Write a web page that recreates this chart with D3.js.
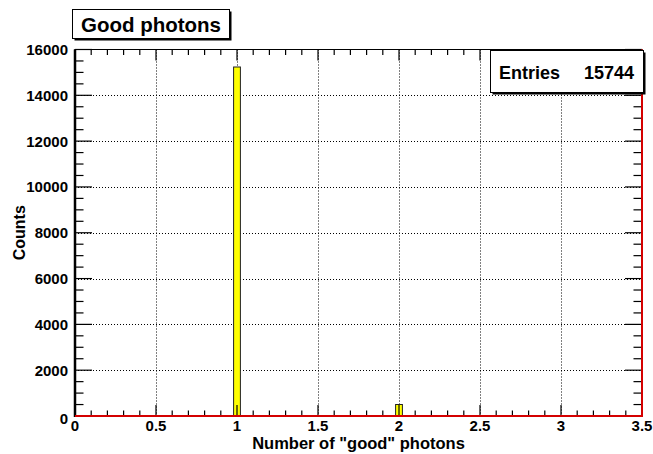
<!DOCTYPE html>
<html>
<head>
<meta charset="utf-8">
<script src="https://cdn.jsdelivr.net/npm/d3@7"></script>
<style>
  html, body { margin: 0; padding: 0; background: #fff; }
  svg text { font-family: "Liberation Sans", Arial, Helvetica, sans-serif; font-weight: bold; fill: #000; }
</style>
</head>
<body>
<svg id="chart" width="653" height="454"></svg>
<script>
// Histogram contents: bin centres and counts
const binCenters = [1, 2, 3];
const binCounts = [15236, 502, 6];
const binWidth = 0.042;
const xTicks = [0, 0.5, 1, 1.5, 2, 2.5, 3, 3.5];
const yTicks = [0, 2000, 4000, 6000, 8000, 10000, 12000, 14000, 16000];
const titleText = "Good photons";
const xTitle = 'Number of "good" photons';
const yTitle = "Counts";
const statsName = "Entries";
const statsValue = "15744";

const svg = d3.select("#chart");
const frame = { left: 75, right: 642, top: 49.5, bottom: 416 };

const x = d3.scaleLinear().domain([0, 3.5]).range([frame.left, frame.right]);
const y = d3.scaleLinear().domain([0, 16000]).range([frame.bottom, frame.top]);

const W = frame.right - frame.left, H = frame.bottom - frame.top;
const xMajorLen = 0.03 * H, xMinorLen = xMajorLen / 2;
const yMajorLen = 0.03 * W, yMinorLen = yMajorLen / 2;

// dotted grid at the major ticks
const grid = svg.append("g").attr("stroke", "#000").attr("stroke-width", 1)
  .attr("stroke-dasharray", "1,2");
grid.selectAll("line.gx").data(xTicks.filter(d => d > 0 && d < 3.5)).join("line")
  .attr("class", "gx")
  .attr("x1", d => Math.round(x(d)) + 0.5).attr("x2", d => Math.round(x(d)) + 0.5)
  .attr("y1", frame.top).attr("y2", frame.bottom);
grid.selectAll("line.gy").data(yTicks.filter(d => d > 0 && d < 16000)).join("line")
  .attr("class", "gy")
  .attr("x1", frame.left).attr("x2", frame.right)
  .attr("y1", d => Math.round(y(d)) + 0.5).attr("y2", d => Math.round(y(d)) + 0.5);

// histogram bars
svg.append("g").selectAll("rect").data(binCenters.map((c, i) => ({ c, n: binCounts[i] })))
  .join("rect")
  .attr("x", d => x(d.c - binWidth / 2))
  .attr("width", d => x(d.c + binWidth / 2) - x(d.c - binWidth / 2))
  .attr("y", d => y(d.n))
  .attr("height", d => y(0) - y(d.n))
  .attr("fill", "#ffff00")
  .attr("stroke", "#222")
  .attr("stroke-width", 1);

// frame
svg.append("rect")
  .attr("x", frame.left).attr("y", frame.top)
  .attr("width", W).attr("height", H)
  .attr("fill", "none").attr("stroke", "#000").attr("stroke-width", 1);

// ticks on all four sides
const xMinor = d3.range(0, 35.5, 1).map(i => i / 10);
const yMinor = d3.range(0, 16001, 500);
const isXMajor = d => Math.abs(d * 2 - Math.round(d * 2)) < 1e-6;
const isYMajor = d => d % 2000 === 0;
const ticks = svg.append("g").attr("stroke", "#000").attr("stroke-width", 1.2);
ticks.selectAll("line.xb").data(xMinor).join("line").attr("class", "xb")
  .attr("x1", d => x(d)).attr("x2", d => x(d))
  .attr("y1", frame.bottom).attr("y2", d => frame.bottom - (isXMajor(d) ? xMajorLen : xMinorLen));
ticks.selectAll("line.xt").data(xMinor).join("line").attr("class", "xt")
  .attr("x1", d => x(d)).attr("x2", d => x(d))
  .attr("y1", frame.top).attr("y2", d => frame.top + (isXMajor(d) ? xMajorLen : xMinorLen));
ticks.selectAll("line.yl").data(yMinor).join("line").attr("class", "yl")
  .attr("y1", d => y(d)).attr("y2", d => y(d))
  .attr("x1", frame.left).attr("x2", d => frame.left + (isYMajor(d) ? yMajorLen : yMinorLen));
ticks.selectAll("line.yr").data(yMinor).join("line").attr("class", "yr")
  .attr("y1", d => y(d)).attr("y2", d => y(d))
  .attr("x1", frame.right).attr("x2", d => frame.right - (isYMajor(d) ? yMajorLen : yMinorLen));

// thick left axis, red baseline and right edge
svg.append("line").attr("x1", frame.left).attr("x2", frame.left)
  .attr("y1", frame.top).attr("y2", frame.bottom + 1)
  .attr("stroke", "#000").attr("stroke-width", 2.5);
svg.append("line").attr("x1", frame.left).attr("x2", frame.right + 1)
  .attr("y1", frame.bottom).attr("y2", frame.bottom)
  .attr("stroke", "#d40000").attr("stroke-width", 2);
svg.append("line").attr("x1", frame.right).attr("x2", frame.right)
  .attr("y1", frame.top).attr("y2", frame.bottom)
  .attr("stroke", "#d40000").attr("stroke-width", 2);

// tick labels
const fmt = d3.format("~g");
svg.append("g").selectAll("text").data(xTicks).join("text")
  .attr("x", d => x(d)).attr("y", 430.5)
  .attr("text-anchor", "middle").attr("font-size", 15)
  .text(d => fmt(d));
svg.append("g").selectAll("text").data(yTicks).join("text")
  .attr("x", 68).attr("y", d => y(d) + (d === 0 ? 8 : 5.5))
  .attr("text-anchor", "end").attr("font-size", 15)
  .text(d => d);

// axis titles
svg.append("text").attr("x", (frame.left + frame.right) / 2).attr("y", 449)
  .attr("text-anchor", "middle").attr("font-size", 16.5).text(xTitle);
svg.append("text").attr("transform", `translate(25,${(frame.top + frame.bottom) / 2}) rotate(-90)`)
  .attr("text-anchor", "middle").attr("font-size", 16).text(yTitle);

// boxed text with a drop shadow
function shadowBox(x0, y0, w, h) {
  svg.append("rect").attr("x", x0 + 2).attr("y", y0 + 2).attr("width", w).attr("height", h).attr("fill", "#000");
  svg.append("rect").attr("x", x0).attr("y", y0).attr("width", w).attr("height", h)
    .attr("fill", "#fff").attr("stroke", "#000").attr("stroke-width", 1);
}

shadowBox(72.5, 9.5, 157, 29);
svg.append("text").attr("x", 151).attr("y", 32).attr("text-anchor", "middle")
  .attr("font-size", 20.5).text(titleText);

shadowBox(490.5, 50.5, 153, 42);
svg.append("text").attr("x", 499).attr("y", 79).attr("font-size", 18).text(statsName);
svg.append("text").attr("x", 634).attr("y", 79).attr("text-anchor", "end").attr("font-size", 18).text(statsValue);
</script>
</body>
</html>
